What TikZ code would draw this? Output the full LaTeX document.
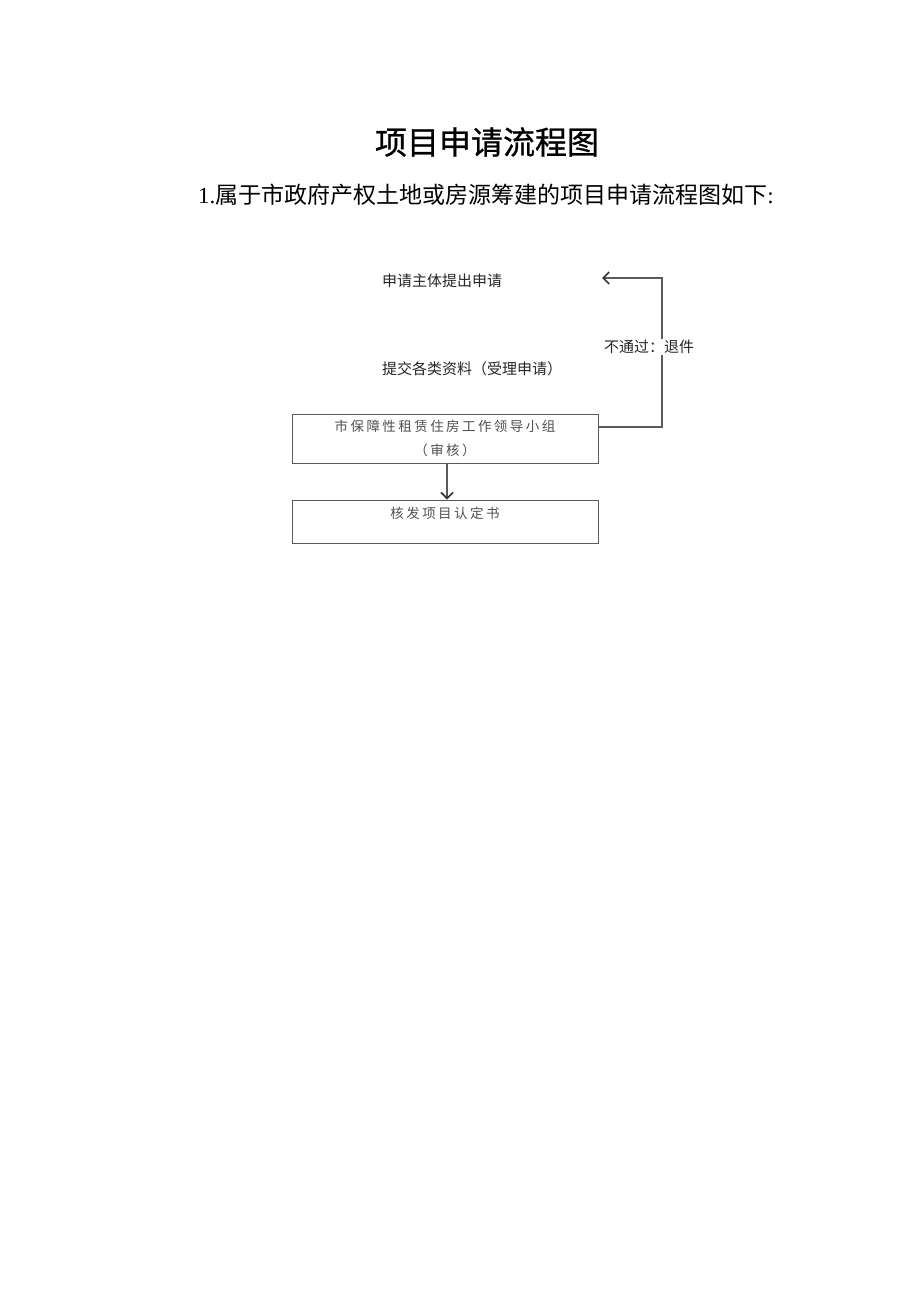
\documentclass[tikz,border=0pt]{standalone}
\usepackage{fontspec}
\newfontfamily\cjk{Noto Sans CJK SC}
\newfontfamily\cjktitle[FakeBold=0.8]{Noto Sans CJK SC}
\newfontfamily\cjkspaced[LetterSpace=18]{Noto Sans CJK SC}
\newfontfamily\latinserif{Liberation Serif}
\usetikzlibrary{arrows.meta}
\definecolor{linegray}{HTML}{5A5A5A}
\definecolor{textgray}{HTML}{505050}
\tikzset{
  plain/.style={inner sep=0pt, font=\cjk\fontsize{15}{18}\selectfont, text=black!85},
  flowbox/.style={draw=linegray, line width=1pt, minimum width=306pt, inner sep=0pt,
    text=textgray, align=center, font=\cjkspaced\fontsize{13.5}{24}\selectfont},
  conn/.style={draw=linegray, line width=1.3pt, -{Straight Barb[length=6pt,width=12pt,line width=1.6pt,color=black!80]}}
}
\begin{document}
\begin{tikzpicture}[x=1pt,y=-1pt]
\useasboundingbox[fill=white] (0,0) rectangle (920,1301);
\node[inner sep=0pt, font=\cjktitle\fontsize{32}{36}\selectfont] (title) at (487,142) {项目申请流程图};
\node[inner sep=0pt, font=\cjk\fontsize{23}{26}\selectfont] (sub) at (486,195) {{\latinserif 1.}属于市政府产权土地或房源筹建的项目申请流程图如下{\latinserif :}};
\node[plain] (apply) at (442,281) {申请主体提出申请};
\node[plain] (submit) at (472,369) {提交各类资料（受理申请）};
\node[flowbox, minimum height=49pt] (review) at (445,438.5) {市保障性租赁住房工作领导小组\\（审核）};
\node[flowbox, text height=18.3pt, text depth=24.7pt] (issue) at (445,521.5) {核发项目认定书};
\coordinate (c1) at (662,427);
\coordinate (c2) at (662,278);
\coordinate (ret) at (602,278);
\draw[conn] ([yshift=11.5pt]review.east) -- (c1) -- (c2) -- (ret);
\node[plain, fill=white, inner sep=1pt] (reject) at (649,347) {不通过：退件};
\draw[conn] (review.south -| 447,0) -- (issue.north -| 447,0);
\end{tikzpicture}
\end{document}
